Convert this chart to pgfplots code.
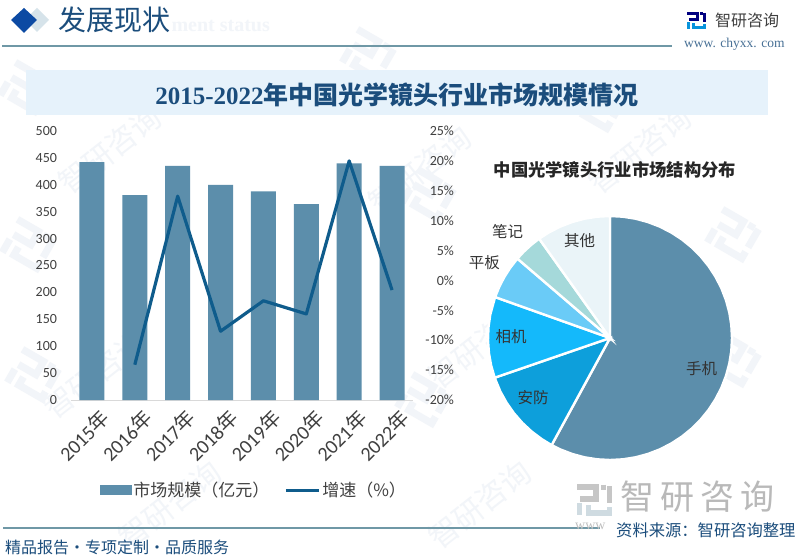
\documentclass[border=0pt]{standalone}
\usepackage{fontspec}
\usepackage{xcolor}
\usepackage{pgfplots}
\pgfplotsset{compat=1.18}
\setmainfont{Carlito}
\newfontfamily\cjk{Noto Sans CJK SC}
\newfontfamily\titlenum{Liberation Serif}

\definecolor{barc}{HTML}{5C8EAB}
\definecolor{linec}{HTML}{0F5C8C}
\definecolor{rulec}{HTML}{6F98A6}
\definecolor{stripc}{HTML}{E6F2FB}
\definecolor{titlec}{HTML}{1B4D7C}
\definecolor{wm}{HTML}{F2F5F9}
\definecolor{tickc}{HTML}{404040}
\definecolor{secur}{HTML}{0D9FDB}
\definecolor{camera}{HTML}{14B9FB}
\definecolor{tablet}{HTML}{6ACBF7}
\definecolor{laptop}{HTML}{A5D9DA}
\definecolor{other}{HTML}{EAF4F8}

\newcommand{\fs}[1]{\fontsize{#1}{#1}\selectfont}

% logo in a unit square, #1 at, #2 size, #3 rotation, #4 and #5 colours
\newcommand{\logo}[5]{%
\begin{scope}[shift={(#1)},rotate=#3,scale=#2,line width=#2*0.17pt]
  \draw[#4] (0,.12) -- (.58,.12) -- (.58,.48) -- (.1,.48);
  \draw[#4] (.8,.05) -- (.8,.2);
  \draw[#4] (.98,.1) -- (.98,.6);
  \draw[#5] (.08,.62) -- (.08,.98);
  \draw[#5] (.35,.68) -- (.35,.9) -- (.98,.9) -- (.98,.72);
\end{scope}}

\begin{document}
\begin{tikzpicture}
\path[use as bounding box,fill=white] (0,0) rectangle (800pt,558pt);

\begin{scope}[yshift=558pt,x=1pt,y=-1pt]
  % watermark
  \foreach \p in {{18,58},{20,215},{25,345},{420,165},{415,370},{725,205},{725,330},{360,25},{590,75}}
    {\logo{\p}{42}{-30}{wm}{wm}}
  \foreach \p in {{110,150},{420,170},{95,375},{170,505},{480,345},{480,505},{640,150}}
    \node[rotate=38,text=wm,font=\cjk\fs{30}] at (\p) {智研咨询};
  \node[text=wm,font=\titlenum\bfseries\fs{20},anchor=west] at (168,26) {ment status};

  % header
  \fill[barc!25] (37,8) -- (49,20) -- (37,32) -- (25,20) -- cycle;
  \fill[linec!80!blue] (24,8) -- (37,20) -- (24,33) -- (11,20) -- cycle;
  \node[anchor=west,inner sep=0,text=titlec,font=\cjk\fs{28}] at (58,20) {发展现状};
  \draw[rulec,line width=1.5pt] (2,46) -- (672,46);
  \logo{687,11}{18}{0}{blue!50!black}{cyan!80!blue}
  \node[anchor=west,inner sep=0,text=tickc,font=\cjk\fs{16}] at (715,20) {智研咨询};
  \node[anchor=west,inner sep=0,text=titlec!80,font=\titlenum\fs{13.5}] at (684,44) {www. chyxx. com};

  % title strip
  \fill[stripc] (26,70) rectangle (768,115);
  \node[anchor=center,inner sep=0,text=titlec,font=\bfseries\fs{25}] at (397,95)
    {{\titlenum\bfseries 2015-2022}{\cjk\bfseries 年中国光学镜头行业市场规模情况}};

  % footer
  \logo{577,483}{33}{0}{gray!45}{cyan!25!gray!35}
  \node[anchor=west,inner sep=0,text=gray!55,font=\cjk\fs{34}] at (620,497) {智\hspace{6pt}研\hspace{6pt}咨\hspace{6pt}询};
  \draw[rulec,line width=1.2pt] (3,528) -- (600,528);
  \node[anchor=west,inner sep=0,text=gray!50,font=\titlenum\fs{14}] at (575,526) {www};
  \node[anchor=west,inner sep=0,text=titlec,font=\cjk\fs{16.3}] at (616,530) {资料来源：智研咨询整理};
  \node[anchor=west,inner sep=0,text=titlec,font=\cjk\fs{16}] at (5,547) {精品报告·专项定制·品质服务};
\end{scope}

% bars
\begin{axis}[
  at={(70.5pt,158pt)},anchor=south west,
  width=343pt,height=269pt,scale only axis,
  xmin=-0.5,xmax=7.5,ymin=0,ymax=500,
  axis y line=none,
  axis x line*=bottom,
  axis line style={draw=black!15,-},
  xtick={0,...,7},
  xticklabels={2015{\cjk 年},2016{\cjk 年},2017{\cjk 年},2018{\cjk 年},2019{\cjk 年},2020{\cjk 年},2021{\cjk 年},2022{\cjk 年}},
  xtick style={draw=none},
  xticklabel style={rotate=45,anchor=north east,font=\fs{20},text=tickc,xshift=3pt,yshift=-7pt},
]
\addplot[ybar,bar width=25pt,fill=barc,draw=none] coordinates {
  (0,442) (1,381) (2,435) (3,400) (4,388) (5,364) (6,440) (7,435)
};
\end{axis}

% left scale
\begin{axis}[
  at={(70.5pt,158pt)},anchor=south west,
  width=343pt,height=269pt,scale only axis,
  xmin=-0.5,xmax=7.5,ymin=0,ymax=500,
  axis x line=none,
  axis y line*=left,
  y axis line style={draw=none},
  ytick={0,50,...,500},
  ytick style={draw=none},
  yticklabel style={font=\fs{14},text=tickc,/pgf/number format/assume math mode=true,xshift=-10pt},
]
\addplot[draw=none] coordinates {(0,0)};
\end{axis}

% growth line
\begin{axis}[
  at={(70.5pt,158pt)},anchor=south west,
  width=343pt,height=269pt,scale only axis,
  xmin=-0.5,xmax=7.5,ymin=-20,ymax=25,
  axis x line=none,
  axis y line*=right,
  y axis line style={draw=none},
  ytick={-20,-15,...,25},
  ytick style={draw=none},
  yticklabel={\pgfmathprintnumber[assume math mode=true]{\tick}\%},
  yticklabel style={font=\fs{14},text=tickc,anchor=east,xshift=44pt},
  legend style={at={(axis description cs:0.535,-0.335)},anchor=center,draw=none,fill=none,
    legend columns=2,font=\cjk\fs{17},text=tickc,
    /tikz/every even column/.append style={column sep=13pt}},
  legend cell align=left,
]
\addlegendimage{legend image code/.code={\fill[barc] (-6pt,-4.5pt) rectangle (25pt,4.5pt);}}
\addlegendentry{市场规模（亿元）}
\addplot[linec,line width=3.2pt,line join=round,
  legend image code/.code={\draw[linec,line width=2.8pt] (-6pt,0) -- (27pt,0);}] coordinates {
  (1,-14.1) (2,14.1) (3,-8.5) (4,-3.4) (5,-5.6) (6,20) (7,-1.6)
};
\addlegendentry{增速（\%）}
\end{axis}

% pie, radius 1 = 122 px, slices in polar data coordinates (angle, radius)
\begin{axis}[
  at={(610pt,220pt)},anchor=center,
  width=268.4pt,height=268.4pt,scale only axis,
  xmin=-1.1,xmax=1.1,ymin=-1.1,ymax=1.1,
  hide axis,clip=false,
  every axis plot/.append style={data cs=polar,draw=white,line width=2.4pt,line join=miter},
]
\addplot[fill=barc] coordinates {
  (0,0) (90,1) (84,1) (78,1) (72,1) (66,1) (60,1) (54,1) (48,1) (42,1) (36,1) (30,1) (24,1)
  (18,1) (12,1) (6,1) (0,1) (-6,1) (-12,1) (-18,1) (-24,1) (-30,1) (-36,1) (-42,1) (-48,1)
  (-54,1) (-60,1) (-66,1) (-72,1) (-78,1) (-84,1) (-90,1) (-96,1) (-102,1) (-108,1) (-114,1) (-118.6,1)
} -- cycle;
\addplot[fill=secur] coordinates {
  (0,0) (-118.6,1) (-124,1) (-130,1) (-136,1) (-142,1) (-148,1) (-154,1) (-161,1)
} -- cycle;
\addplot[fill=camera] coordinates {
  (0,0) (-161,1) (-167,1) (-173,1) (-179,1) (-185,1) (-191,1) (-199.6,1)
} -- cycle;
\addplot[fill=tablet] coordinates {
  (0,0) (-199.6,1) (-205,1) (-210,1) (-215,1) (-220.6,1)
} -- cycle;
\addplot[fill=laptop] coordinates {
  (0,0) (-220.6,1) (-225,1) (-230,1) (-234.5,1)
} -- cycle;
\addplot[fill=other] coordinates {
  (0,0) (-234.5,1) (-240,1) (-246,1) (-252,1) (-258,1) (-264,1) (-270,1)
} -- cycle;
\node[font=\cjk\fs{15.5},text=black!80] at (axis cs:0.75,-0.25) {手机};
\node[font=\cjk\fs{15.5},text=black!80] at (axis cs:-0.63,-0.49) {安防};
\node[font=\cjk\fs{15.5},text=black!80] at (axis cs:-0.81,0.01) {相机};
\node[font=\cjk\fs{15.5},text=black!80] at (axis cs:-1.03,0.62) {平板};
\node[font=\cjk\fs{15.5},text=black!80] at (axis cs:-0.84,0.87) {笔记};
\node[font=\cjk\fs{15.5},text=black!80] at (axis cs:-0.25,0.80) {其他};
\node[font=\cjk\bfseries\fs{17.3},text=black!85] at (axis cs:0.04,1.38) {中国光学镜头行业市场结构分布};
\end{axis}
\end{tikzpicture}
\end{document}
